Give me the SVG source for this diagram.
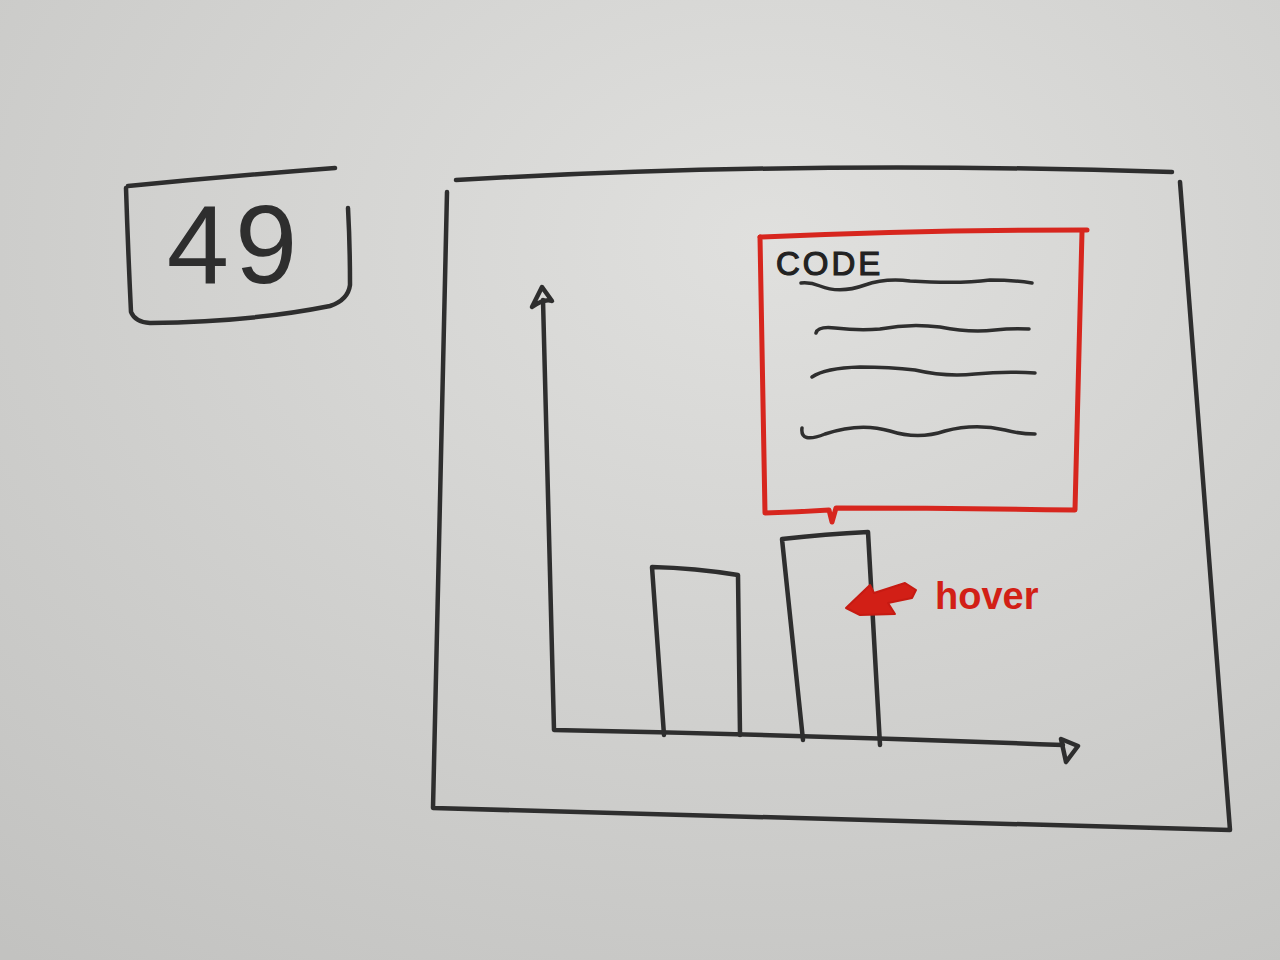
<svg xmlns="http://www.w3.org/2000/svg" width="1280" height="960" viewBox="0 0 1280 960">
<defs>
<radialGradient id="bg" cx="0.6" cy="0.25" r="0.95">
<stop offset="0" stop-color="#e0e0de"/>
<stop offset="1" stop-color="#c2c2c0"/>
</radialGradient>
<style>
.ink{fill:none;stroke:#2e2e2e;stroke-width:4.5;stroke-linecap:round;stroke-linejoin:round}
.thin{fill:none;stroke:#2e2e2e;stroke-width:3.5;stroke-linecap:round;stroke-linejoin:round}
.red{fill:none;stroke:#d7261e;stroke-width:5;stroke-linecap:round;stroke-linejoin:round}
.hand{font-family:"Liberation Sans","DejaVu Sans",sans-serif}
</style>
</defs>
<rect width="1280" height="960" fill="url(#bg)"/>

<g id="label-49">
<path class="ink" d="M128 186 Q230 176 335 168"/>
<path class="ink" d="M126 188 Q128 250 131 312 Q135 322 150 323 Q250 322 330 306 Q348 300 350 285 Q350 245 348 208"/>
<text class="hand" x="235" y="283" font-size="112" fill="#2e2e2e" text-anchor="middle" letter-spacing="6">49</text>
</g>

<g id="frame">
<path class="ink" d="M456 180 Q800 160 1172 172"/>
<path class="ink" d="M447 192 Q440 500 433 808 Q830 818 1230 830 Q1205 500 1180 182"/>
</g>

<g id="connectors">
<path class="ink" d="M543 300 Q548 515 554 730 Q810 735 1063 745"/>
<path class="ink" d="M532 307 L542 287 L552 301 Q545 298 532 307 Z"/>
<path class="ink" d="M1061 739 L1078 746 L1066 762 Z"/>
</g>

<g id="bar1">
<path class="ink" d="M664 735 Q658 650 652 567 Q695 568 738 575 Q739 655 740 735"/>
</g>

<g id="bar2">
<path class="ink" d="M803 740 Q793 640 782 539 Q826 534 868 532 Q874 640 880 745"/>
</g>

<g id="code-popup">
<path class="red" d="M760 237 Q920 230 1087 230"/>
<path class="red" d="M760 237 Q763 375 765 513 Q797 512 829 510 L832 522 L836 508 Q955 508 1075 510 Q1078 370 1082 232"/>
<text class="hand" x="776" y="275" font-size="33" fill="#222" stroke="#222" stroke-width="1.2" letter-spacing="3">CODE</text>
<path class="thin" d="M801 283 Q810 282 820 286 Q840 294 865 285 Q885 278 910 281 Q960 284 990 280 Q1012 280 1032 283"/>
<path class="thin" d="M816 333 Q818 326 835 328 Q860 331 880 329 Q910 323 940 327 Q970 333 995 330 Q1012 328 1029 329"/>
<path class="thin" d="M812 377 Q825 368 860 367 Q890 367 915 370 Q945 377 975 374 Q1005 371 1035 373"/>
<path class="thin" d="M802 428 Q800 444 825 434 Q860 422 890 431 Q918 440 945 431 Q975 423 1005 430 Q1020 434 1035 434"/>
</g>

<g id="hover-note">
<path d="M846 608 L870 585 L874 593 L905 583 L916 590 L912 598 L888 603 L895 614 L860 615 Z" fill="#d21f16" stroke="#c61a12" stroke-width="2" stroke-linejoin="round"/>
<text class="hand" x="935" y="609" font-size="38" fill="#d21f16" font-weight="bold">hover</text>
</g>
</svg>
